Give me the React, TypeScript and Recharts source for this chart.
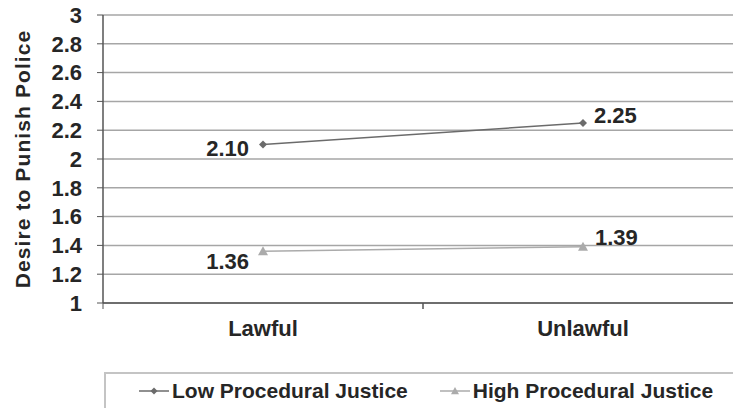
import { LineChart, Line, XAxis, YAxis, CartesianGrid, Legend, LabelList } from "recharts";

// Desire to punish police, by lawfulness of the stop and procedural justice
const conditions = ["Lawful", "Unlawful"];
const lowPJ = [2.1, 2.25];
const highPJ = [1.36, 1.39];
const yTicks = [1, 1.2, 1.4, 1.6, 1.8, 2, 2.2, 2.4, 2.6, 2.8, 3];
const seriesOrder = ["low", "high"];

const data = conditions.map((c, i) => ({ condition: c, low: lowPJ[i], high: highPJ[i] }));

const FONT = "'Liberation Sans', Arial, Helvetica, sans-serif";
const TEXT = "#262626";
const LOW_COLOR = "#6b6b6b";
const HIGH_COLOR = "#ababab";

const CHART_W = 743;
const CHART_H = 408;
const Y_AXIS_W = 103;
const HALF_BAND = (CHART_W - Y_AXIS_W) / conditions.length / 2;

// where each value label sits relative to its point: [dx, dy, anchor]
const labelPlacement: Record<string, [number, number, string][]> = {
  low: [
    [-14, 4, "end"],
    [11, -8, "start"],
  ],
  high: [
    [-14, 10, "end"],
    [12, -9, "start"],
  ],
};

const Diamond = ({ cx, cy, fill, size = 4 }: any) => (
  <path d={`M${cx},${cy - size}L${cx + size},${cy}L${cx},${cy + size}L${cx - size},${cy}Z`} fill={fill} />
);

const Triangle = ({ cx, cy, fill, size = 5 }: any) => (
  <path d={`M${cx},${cy - size}L${cx + size},${cy + size * 0.8}L${cx - size},${cy + size * 0.8}Z`} fill={fill} />
);

const makeLabel = (key: string) => (props: any) => {
  const { x, y, value, index } = props;
  const [dx, dy, anchor] = labelPlacement[key][index];
  return (
    <text
      x={x + dx}
      y={y + dy}
      textAnchor={anchor}
      dominantBaseline="central"
      fontFamily={FONT}
      fontWeight="bold"
      fontSize={22}
      fill={TEXT}
    >
      {Number(value).toFixed(2)}
    </text>
  );
};

const XTick = ({ x, y, payload }: any) => (
  <g>
    <line x1={x - HALF_BAND} x2={x - HALF_BAND} y1={y} y2={y + 6} stroke="#555" strokeWidth={1} />
    <line x1={x + HALF_BAND} x2={x + HALF_BAND} y1={y} y2={y + 6} stroke="#555" strokeWidth={1} />
    <text x={x} y={y + 25} textAnchor="middle" dominantBaseline="central" fontFamily={FONT} fontWeight="bold" fontSize={22} fill={TEXT}>
      {payload.value}
    </text>
  </g>
);

const renderLegend = (props: any) => {
  const { payload = [] } = props;
  const items = [...payload].sort(
    (a: any, b: any) => seriesOrder.indexOf(a.dataKey) - seriesOrder.indexOf(b.dataKey)
  );
  return (
    <div style={{ display: "flex", alignItems: "center", height: "100%", paddingLeft: 33, boxSizing: "border-box" }}>
      {items.map((entry: any) => (
        <div key={entry.value} style={{ display: "flex", alignItems: "center", marginRight: 32 }}>
          <svg width={30} height={12} style={{ marginRight: 3 }}>
            <line x1={0} x2={30} y1={6} y2={6} stroke={entry.color} strokeWidth={1.5} />
            {entry.dataKey === "low" ? (
              <Diamond cx={15} cy={6} size={3.5} fill={entry.color} />
            ) : (
              <Triangle cx={15} cy={6} size={4} fill={entry.color} />
            )}
          </svg>
          <span style={{ fontFamily: FONT, fontWeight: "bold", fontSize: 21, color: TEXT, whiteSpace: "nowrap" }}>
            {entry.value}
          </span>
        </div>
      ))}
    </div>
  );
};

export default function App() {
  return (
    <div style={{ position: "absolute", left: 0, top: 0, width: 733, height: 408, overflow: "hidden", background: "#fff" }}>
      <LineChart width={CHART_W} height={CHART_H} data={data} margin={{ top: 15, right: 0, bottom: 27, left: 0 }}>
        <CartesianGrid vertical={false} stroke="#a6a6a6" strokeWidth={1.5} />
        <XAxis
          dataKey="condition"
          scale="band"
          axisLine={{ stroke: "#555", strokeWidth: 1.5 }}
          tickLine={false}
          tickSize={0}
          tickMargin={0}
          height={40}
          tick={<XTick />}
          interval={0}
        />
        <YAxis
          domain={[1, 3]}
          ticks={yTicks}
          interval={0}
          width={Y_AXIS_W}
          axisLine={{ stroke: "#555", strokeWidth: 1.5 }}
          tickLine={{ stroke: "#555" }}
          tickSize={6}
          tickMargin={15}
          tickFormatter={(v: number) => String(Number(v.toFixed(1)))}
          tick={{ fontFamily: FONT, fontWeight: "bold", fontSize: 22, fill: TEXT }}
          label={(p: any) => {
            const cy = p.viewBox.y + p.viewBox.height / 2;
            return (
              <text
                x={22}
                y={cy}
                transform={`rotate(-90, 22, ${cy})`}
                textAnchor="middle"
                dominantBaseline="central"
                fontFamily={FONT}
                fontWeight="bold"
                fontSize={21}
                letterSpacing={1.1}
                fill={TEXT}
              >
                Desire to Punish Police
              </text>
            );
          }}
        />
        <Legend
          verticalAlign="bottom"
          content={renderLegend}
          wrapperStyle={{
            position: "absolute",
            left: 104,
            top: 372,
            width: 700,
            height: 38,
            border: "2px solid #c4c4c4",
            boxSizing: "border-box",
          }}
        />
        <Line
          dataKey="low"
          name="Low Procedural Justice"
          stroke={LOW_COLOR}
          strokeWidth={1.5}
          isAnimationActive={false}
          dot={(p: any) => <Diamond key={`low-${p.index}`} cx={p.cx} cy={p.cy} fill={LOW_COLOR} />}
          activeDot={false}
        >
          <LabelList dataKey="low" content={makeLabel("low")} />
        </Line>
        <Line
          dataKey="high"
          name="High Procedural Justice"
          stroke={HIGH_COLOR}
          strokeWidth={1.5}
          isAnimationActive={false}
          dot={(p: any) => <Triangle key={`high-${p.index}`} cx={p.cx} cy={p.cy} fill={HIGH_COLOR} />}
          activeDot={false}
        >
          <LabelList dataKey="high" content={makeLabel("high")} />
        </Line>
      </LineChart>
    </div>
  );
}
